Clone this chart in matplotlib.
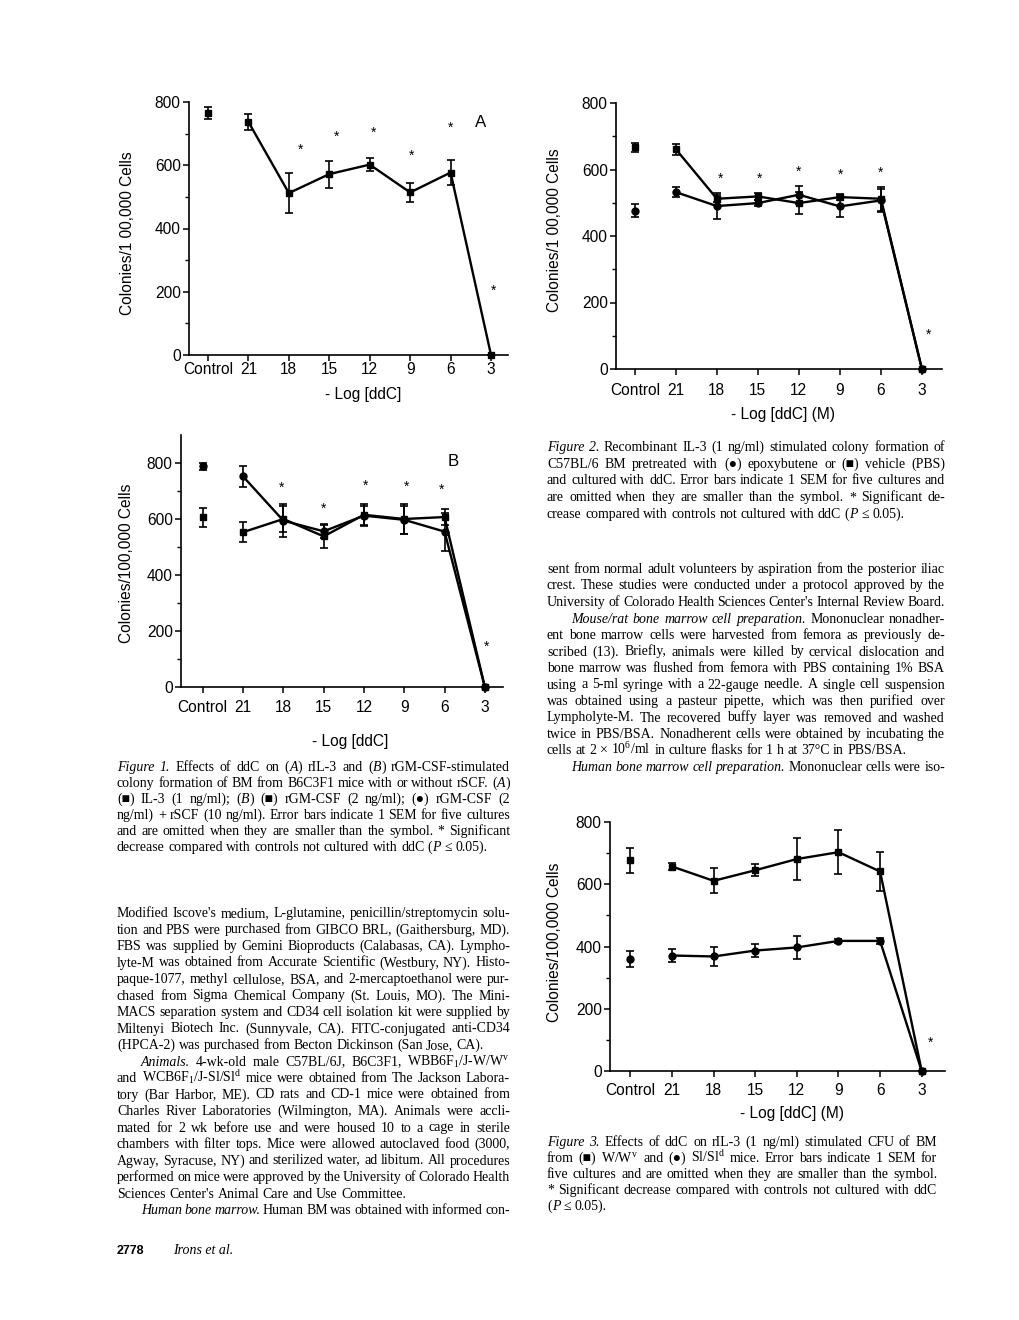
import matplotlib
matplotlib.use('Agg')
import matplotlib.pyplot as plt
import numpy as np

plt.rcParams['font.family'] = ['Liberation Sans', 'DejaVu Sans']
plt.rcParams['mathtext.fontset'] = 'custom'
plt.rcParams['mathtext.rm'] = 'Liberation Serif'
plt.rcParams['mathtext.it'] = 'Liberation Serif:italic'

W, H = 1020, 1320
fig = plt.figure(figsize=(W / 100, H / 100), dpi=100)
fig.patch.set_facecolor('white')

doses = ['Control', '21', '18', '15', '12', '9', '6', '3']

# Figure 1A: IL-3
a_il3 = [765, 737, 512, 572, 602, 514, 577, 0]
a_il3_err = [20, 25, 62, 43, 20, 31, 40, 0]
a_star_x = [2.30, 3.18, 4.09, 5.04, 6.00, 7.06]
a_star_y = [659, 701, 715, 643, 729, 216]

# Figure 1B: rGM-CSF (squares) and rGM-CSF + rSCF (circles)
b_gm = [607, 553, 600, 538, 615, 600, 607, 0]
b_gm_err = [34, 35, 45, 42, 40, 55, 28, 0]
b_gm_scf = [788, 752, 594, 556, 612, 597, 555, 0]
b_gm_scf_err = [12, 36, 58, 25, 35, 50, 68, 0]
b_star_x = [1.96, 2.99, 4.03, 5.06, 5.93, 7.05]
b_star_y = [723, 651, 731, 729, 717, 157]

# Figure 2: vehicle (squares) and epoxybutene (circles)
f2_pbs = [667, 661, 512, 519, 499, 517, 512, 0]
f2_pbs_err = [13, 17, 10, 10, 32, 8, 36, 0]
f2_epoxy = [476, 532, 490, 499, 524, 489, 507, 0]
f2_epoxy_err = [20, 16, 39, 10, 27, 32, 34, 0]
f2_star_x = [2.10, 3.03, 4.00, 5.02, 5.98, 7.15]
f2_star_y = [582, 582, 605, 595, 601, 115]

# Figure 3: W/Wv (squares) and Sl/Sld (circles)
f3_w = [677, 657, 611, 645, 681, 703, 641, 0]
f3_w_err = [41, 12, 40, 20, 68, 70, 63, 0]
f3_sl = [360, 371, 368, 387, 397, 418, 418, 0]
f3_sl_err = [27, 22, 32, 22, 36, 7, 10, 0]
f3_star_x = [7.2]
f3_star_y = [102]

FS = 11.2


def px_axes(left, right, top, bottom):
    return fig.add_axes([left / W, 1 - bottom / H, (right - left) / W, (bottom - top) / H])


def style(ax, xlim, ytop, xpad, ylabel, xlabel, ylab_xy, xlab_xy):
    ax.set_xlim(*xlim)
    ax.set_ylim(0, ytop)
    for s in ['top', 'right']:
        ax.spines[s].set_visible(False)
    for s in ['left', 'bottom']:
        ax.spines[s].set_linewidth(1.2)
    ax.set_xticks(range(len(doses)))
    ax.set_xticklabels(doses)
    ax.set_yticks([0, 200, 400, 600, 800])
    ax.set_yticks([100, 300, 500, 700], minor=True)
    ax.tick_params(axis='both', which='major', direction='out', width=1.1,
                   length=4.5, labelsize=FS)
    ax.tick_params(axis='y', which='minor', direction='out', width=1.0, length=3)
    ax.tick_params(axis='y', pad=1.5)
    ax.tick_params(axis='x', pad=xpad)
    ax.set_ylabel(ylabel, fontsize=FS)
    ax.set_xlabel(xlabel, fontsize=FS)
    ax.yaxis.set_label_coords(*ylab_xy)
    ax.xaxis.set_label_coords(*xlab_xy)


def series(ax, y, err, marker, ms=5):
    y = np.asarray(y, float)
    err = np.asarray(err, float)
    x = np.arange(len(y))
    parts = [ax.errorbar(x[:1], y[:1], yerr=err[:1], fmt=marker, ms=ms, color='k',
                         capsize=3, elinewidth=1.2, capthick=1.2),
             ax.errorbar(x[1:], y[1:], yerr=err[1:], fmt='-' + marker, ms=ms, color='k',
                         lw=1.7, capsize=3, elinewidth=1.2, capthick=1.2)]
    for eb in parts:
        eb[0].set_clip_on(False)
        for c in list(eb[1]) + list(eb[2]):
            c.set_clip_on(False)


def stars(ax, xs, ys):
    for x, y in zip(xs, ys):
        ax.annotate('*', (x, y), xytext=(0, -5.5), textcoords='offset points',
                    ha='center', va='baseline', fontsize=10)


# ---- Figure 1A
ax = px_axes(189, 508, 102, 355)
style(ax, (-0.47, 7.42), 800, 0.5, 'Colonies/1 00,000 Cells', '- Log [ddC]',
      (-0.169, 0.482), (0.545, -0.126))
series(ax, a_il3, a_il3_err, 's')
stars(ax, a_star_x, a_star_y)
ax.text(6.73, 734, 'A', fontsize=FS + 1, ha='center', va='center')

# ---- Figure 1B
ax = px_axes(181, 503, 435, 687)
style(ax, (-0.54, 7.45), 900, 4.6, 'Colonies/100,000 Cells', '- Log [ddC]',
      (-0.147, 0.49), (0.525, -0.185))
series(ax, b_gm, b_gm_err, 's')
series(ax, b_gm_scf, b_gm_scf_err, 'o')
stars(ax, b_star_x, b_star_y)
ax.text(6.22, 806, 'B', fontsize=FS + 1, ha='center', va='center')

# ---- Figure 2
ax = px_axes(616, 942, 103, 369)
style(ax, (-0.46, 7.49), 800, 5.8, 'Colonies/1 00,000 Cells', '- Log [ddC] (M)',
      (-0.166, 0.523), (0.513, -0.143))
series(ax, f2_pbs, f2_pbs_err, 's')
series(ax, f2_epoxy, f2_epoxy_err, 'o')
stars(ax, f2_star_x, f2_star_y)

# ---- Figure 3
ax = px_axes(610, 945, 822, 1071)
style(ax, (-0.49, 7.56), 800, 4.3, 'Colonies/100,000 Cells', '- Log [ddC] (M)',
      (-0.143, 0.515), (0.542, -0.139))
series(ax, f3_w, f3_w_err, 's')
series(ax, f3_sl, f3_sl_err, 'o')
stars(ax, f3_star_x, f3_star_y)

# ---- page text
SERIF = ['Liberation Serif', 'DejaVu Serif']
TS = 10
renderer = fig.canvas.get_renderer()


def measure(s, st='normal'):
    t = fig.text(0, 0, s, fontsize=TS, family=SERIF, style=st)
    w = t.get_window_extent(renderer).width
    t.remove()
    return w


SPACE = measure('a b') - measure('ab')


def tokens_of(line):
    toks, pending = [], False
    for i, run in enumerate(line.split('|')):
        st = 'italic' if i % 2 else 'normal'
        for j, p in enumerate(run.split(' ')):
            if j > 0:
                pending = True
            if p:
                toks.append((p, st, pending and len(toks) > 0))
                pending = False
    return toks


def draw_line(x0, x1, y, line, justify, indent=0):
    toks = tokens_of(line)
    arts, total, ngaps = [], 0, 0
    for s, st, sp in toks:
        t = fig.text(0, 1 - y / H, s, fontsize=TS, family=SERIF, style=st,
                     va='baseline', ha='left')
        w = t.get_window_extent(renderer).width
        arts.append((t, w, sp))
        total += w
        ngaps += sp
    gap = (x1 - x0 - indent - total) / ngaps if (justify and ngaps) else SPACE
    x = x0 + indent
    for t, w, sp in arts:
        if sp:
            x += gap
        t.set_x(x / W)
        x += w


def paragraph_block(x0, x1, y0, step, lines):
    # lines: (text, indent, justify)
    for k, (s, ind, just) in enumerate(lines):
        draw_line(x0, x1, y0 + k * step + 4, s, just, ind)


fig1_caption = [
    ('|Figure 1.| Effects of ddC on (|A|) rIL-3 and (|B|) rGM-CSF-stimulated', 0, True),
    ('colony formation of BM from B6C3F1 mice with or without rSCF. (|A|)', 0, True),
    ('(\u25a0) IL-3 (1 ng/ml); (|B|) (\u25a0) rGM-CSF (2 ng/ml); (\u25cf) rGM-CSF (2', 0, True),
    ('ng/ml) + rSCF (10 ng/ml). Error bars indicate 1 SEM for five cultures', 0, True),
    ('and are omitted when they are smaller than the symbol.  * Significant', 0, True),
    ('decrease compared with controls not cultured with ddC (|P| \u2264 0.05).', 0, False),
]
left_body = [
    ("Modified Iscove's medium, L-glutamine, penicillin/streptomycin solu-", 0, True),
    ('tion and PBS were purchased from GIBCO BRL, (Gaithersburg, MD).', 0, True),
    ('FBS was supplied by Gemini Bioproducts (Calabasas, CA). Lympho-', 0, True),
    ('lyte-M was obtained from Accurate Scientific (Westbury, NY). Histo-', 0, True),
    ('paque-1077, methyl cellulose, BSA, and 2-mercaptoethanol were pur-', 0, True),
    ('chased from Sigma Chemical Company (St. Louis, MO). The Mini-', 0, True),
    ('MACS separation system and CD34 cell isolation kit were supplied by', 0, True),
    ('Miltenyi Biotech Inc. (Sunnyvale, CA). FITC-conjugated anti-CD34', 0, True),
    ('(HPCA-2) was purchased from Becton Dickinson (San Jose, CA).', 0, False),
    ('|Animals.| 4-wk-old male C57BL/6J, B6C3F1, WBB6F$_1$/J-W/W$^{\\mathrm{v}}$', 24, True),
    ('and WCB6F$_1$/J-Sl/Sl$^{\\mathrm{d}}$ mice were obtained from The Jackson Labora-', 0, True),
    ('tory (Bar Harbor, ME). CD rats and CD-1 mice were obtained from', 0, True),
    ('Charles River Laboratories (Wilmington, MA). Animals were accli-', 0, True),
    ('mated for 2 wk before use and were housed 10 to a cage in sterile', 0, True),
    ('chambers with filter tops. Mice were allowed autoclaved food (3000,', 0, True),
    ('Agway, Syracuse, NY) and sterilized water, ad libitum. All procedures', 0, True),
    ('performed on mice were approved by the University of Colorado Health', 0, True),
    ("Sciences Center's Animal Care and Use Committee.", 0, False),
    ('|Human bone marrow.| Human BM was obtained with informed con-', 24, True),
]
fig2_caption = [
    ('|Figure 2.| Recombinant IL-3 (1 ng/ml) stimulated colony formation of', 0, True),
    ('C57BL/6 BM pretreated with (\u25cf) epoxybutene or (\u25a0) vehicle (PBS)', 0, True),
    ('and cultured with ddC. Error bars indicate 1 SEM for five cultures and', 0, True),
    ('are omitted when they are smaller than the symbol.  * Significant de-', 0, True),
    ('crease compared with controls not cultured with ddC (|P| \u2264 0.05).', 0, False),
]
right_body = [
    ('sent from normal adult volunteers by aspiration from the posterior iliac', 0, True),
    ('crest. These studies were conducted under a protocol approved by the', 0, True),
    ("University of Colorado Health Sciences Center's Internal Review Board.", 0, True),
    ('|Mouse/rat bone marrow cell preparation.| Mononuclear nonadher-', 24, True),
    ('ent bone marrow cells were harvested from femora as previously de-', 0, True),
    ('scribed (13). Briefly, animals were killed by cervical dislocation and', 0, True),
    ('bone marrow was flushed from femora with PBS containing 1% BSA', 0, True),
    ('using a 5-ml syringe with a 22-gauge needle. A single cell suspension', 0, True),
    ('was obtained using a pasteur pipette, which was then purified over', 0, True),
    ('Lympholyte-M. The recovered buffy layer was removed and washed', 0, True),
    ('twice in PBS/BSA. Nonadherent cells were obtained by incubating the', 0, True),
    ('cells at 2 \u00d7 10$^6$/ml in culture flasks for 1 h at 37\u00b0C in PBS/BSA.', 0, False),
    ('|Human bone marrow cell preparation.| Mononuclear cells were iso-', 24, True),
]
fig3_caption = [
    ('|Figure 3.| Effects of ddC on rIL-3 (1 ng/ml) stimulated CFU of BM', 0, True),
    ('from (\u25a0) W/W$^{\\mathrm{v}}$ and (\u25cf) Sl/Sl$^{\\mathrm{d}}$ mice. Error bars indicate 1 SEM for', 0, True),
    ('five cultures and are omitted when they are smaller than the symbol.', 0, True),
    ('* Significant decrease compared with controls not cultured with ddC', 0, True),
    ('(|P| \u2264 0.05).', 0, False),
]

paragraph_block(117, 510, 767, 16.0, fig1_caption)
paragraph_block(117, 510, 913, 16.5, left_body)
paragraph_block(547, 945, 447, 16.7, fig2_caption)
paragraph_block(547, 945, 569, 16.5, right_body)
paragraph_block(547, 937, 1142, 16.0, fig3_caption)

fig.text(117 / W, 1 - 1254 / H, '2778', fontsize=9, fontweight='bold',
         family=['Liberation Sans'], va='baseline')
fig.text(173 / W, 1 - 1254 / H, 'Irons et al.', fontsize=10, style='italic',
         family=SERIF, va='baseline')

fig.savefig('out.png', dpi=100, facecolor='white')
